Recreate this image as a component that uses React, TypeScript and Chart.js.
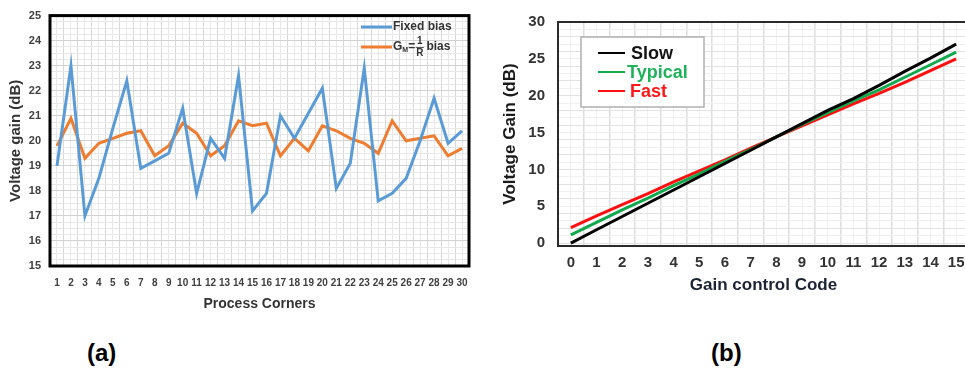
import React, { useEffect, useRef } from 'react';
import { Chart, registerables } from 'chart.js';

Chart.register(...registerables);

// ---- Chart (a) data ----
const corners = [1, 2, 3, 4, 5, 6, 7, 8, 9, 10, 11, 12, 13, 14, 15, 16, 17, 18, 19, 20, 21, 22, 23, 24, 25, 26, 27, 28, 29, 30];
const fixedBias = [19.0, 23.0, 17.0, 18.5, 20.5, 22.4, 18.9, 19.2, 19.5, 21.3, 17.9, 20.1, 19.3, 22.6, 17.2, 17.9, 21.0, 20.1, 21.1, 22.1, 18.1, 19.1, 22.9, 17.6, 17.9, 18.5, 20.0, 21.7, 19.9, 20.4];
const gmBias = [19.8, 20.9, 19.3, 19.9, 20.1, 20.3, 20.4, 19.4, 19.8, 20.7, 20.3, 19.4, 19.8, 20.8, 20.6, 20.7, 19.4, 20.1, 19.6, 20.6, 20.4, 20.1, 19.9, 19.5, 20.8, 20.0, 20.1, 20.2, 19.4, 19.7];

// ---- Chart (b) data ----
const codes = [0, 1, 2, 3, 4, 5, 6, 7, 8, 9, 10, 11, 12, 13, 14, 15];
const slow = [0.0, 1.8, 3.6, 5.4, 7.2, 9.0, 10.8, 12.6, 14.4, 16.2, 18.0, 19.6, 21.4, 23.3, 25.1, 27.0];
const typical = [1.1, 2.8, 4.5, 6.1, 7.8, 9.4, 11.1, 12.7, 14.4, 16.1, 17.7, 19.3, 20.8, 22.5, 24.2, 25.9];
const fast = [2.1, 3.7, 5.2, 6.7, 8.3, 9.8, 11.3, 12.9, 14.4, 15.9, 17.4, 18.9, 20.3, 21.8, 23.4, 25.0];
const gainGridB = [0, 1, 2, 3, 4, 5, 6, 7, 8, 9, 10, 11, 12, 13, 14, 15, 16, 17, 18, 19, 20, 21, 22, 23, 24, 25, 26, 27, 28, 29, 30];

const FONT = '"Liberation Sans", Arial, sans-serif';

function borderPlugin(color: string, width: number) {
  return {
    id: 'plotBorder',
    afterDatasetsDraw(chart: any) {
      const { ctx, chartArea: a } = chart;
      ctx.save();
      ctx.strokeStyle = color;
      ctx.lineWidth = width;
      ctx.strokeRect(a.left, a.top, a.right - a.left, a.bottom - a.top);
      ctx.restore();
    },
  };
}

const legendA = {
  id: 'legendA',
  afterDraw(chart: any) {
    const { ctx } = chart;
    const ds = chart.data.datasets;
    ctx.save();
    ctx.lineWidth = 3;
    ctx.strokeStyle = ds[0].borderColor;
    ctx.beginPath(); ctx.moveTo(361, 27); ctx.lineTo(392, 27); ctx.stroke();
    ctx.strokeStyle = ds[1].borderColor;
    ctx.beginPath(); ctx.moveTo(361, 47); ctx.lineTo(392, 47); ctx.stroke();
    ctx.fillStyle = '#333';
    ctx.textBaseline = 'middle';
    ctx.font = `bold 12px ${FONT}`;
    ctx.fillText(ds[0].label, 393, 27);
    // entry 2: G_M = 1/R bias
    let x = 393;
    ctx.fillText('G', x, 47); x += ctx.measureText('G').width;
    ctx.font = `bold 7px ${FONT}`;
    ctx.fillText('M', x, 50); x += ctx.measureText('M').width;
    ctx.font = `bold 12px ${FONT}`;
    ctx.fillText('=', x, 47); x += ctx.measureText('=').width + 1;
    ctx.font = `bold 10px ${FONT}`;
    const fw = ctx.measureText('R').width;
    ctx.textAlign = 'center';
    ctx.fillText('1', x + fw / 2, 41.5);
    ctx.fillText('R', x + fw / 2, 53.5);
    ctx.lineWidth = 0.8;
    ctx.strokeStyle = '#333';
    ctx.beginPath(); ctx.moveTo(x - 0.5, 47.5); ctx.lineTo(x + fw + 0.5, 47.5); ctx.stroke();
    ctx.textAlign = 'left';
    x += fw + 3;
    ctx.font = `bold 12px ${FONT}`;
    ctx.fillText('bias', x, 47);
    ctx.restore();
  },
};

const legendB = {
  id: 'legendB',
  afterDraw(chart: any) {
    const { ctx } = chart;
    const ds = chart.data.datasets;
    const ox = -490;
    ctx.save();
    ctx.fillStyle = '#ffffff';
    ctx.fillRect(581 + ox, 37, 123, 70);
    ctx.strokeStyle = '#b0b0b0';
    ctx.lineWidth = 1.5;
    ctx.strokeRect(581 + ox, 37, 123, 70);
    const ys = [53, 72, 91];
    const tx = [631, 627, 630];
    ctx.font = `bold 18px ${FONT}`;
    ctx.textBaseline = 'middle';
    ds.forEach((d: any, i: number) => {
      ctx.strokeStyle = d.borderColor;
      ctx.lineWidth = 2;
      ctx.beginPath(); ctx.moveTo(598 + ox, ys[i]); ctx.lineTo(625 + ox, ys[i]); ctx.stroke();
      ctx.fillStyle = d.legendColor;
      ctx.fillText(d.label, tx[i] + ox, ys[i] + 1);
    });
    ctx.restore();
  },
};

export default function App() {
  const refA = useRef<HTMLCanvasElement>(null);
  const refB = useRef<HTMLCanvasElement>(null);

  useEffect(() => {
    const chartA = new Chart(refA.current!, {
      type: 'line',
      data: {
        datasets: [
          {
            label: 'Fixed bias',
            data: corners.map((c, i) => ({ x: c, y: fixedBias[i] })),
            borderColor: '#5B9BD5',
            borderWidth: 3,
            pointRadius: 0,
            tension: 0,
          },
          {
            label: 'GM=1/R bias',
            data: corners.map((c, i) => ({ x: c, y: gmBias[i] })),
            borderColor: '#ED7D31',
            borderWidth: 3,
            pointRadius: 0,
            tension: 0,
          },
        ],
      },
      options: {
        animation: false,
        responsive: false,
        events: [],
        layout: { padding: { top: 10, right: 9, left: 0, bottom: 0 } },
        plugins: { legend: { display: false }, tooltip: { enabled: false } },
        scales: {
          x: {
            type: 'linear',
            min: 0.5,
            max: 30.5,
            afterFit: (s: any) => { s.height = 54; },
            border: { display: false },
            grid: {
              drawTicks: false,
              color: (c: any) => (Number.isInteger(c.tick.value) ? '#e8e8e8' : '#d8d8d8'),
              lineWidth: 1,
            },
            ticks: {
              stepSize: 0.5,
              autoSkip: false,
              maxRotation: 0,
              minRotation: 0,
              padding: 11,
              color: '#404040',
              font: { family: FONT, size: 10, weight: 'bold' },
              callback: (v: any) => (Number.isInteger(v) ? String(corners[v - 1]) : ''),
            },
            title: {
              display: true,
              text: 'Process Corners',
              color: '#333',
              font: { family: FONT, size: 14, weight: 'bold' },
              padding: { top: 0, bottom: 7 },
            },
          },
          y: {
            min: 15,
            max: 25,
            afterFit: (s: any) => { s.width = 50; },
            border: { display: false },
            grid: {
              drawTicks: false,
              color: (c: any) => (Number.isInteger(c.tick.value) ? '#d2d2d2' : '#e8e8e8'),
            },
            ticks: {
              stepSize: 0.25,
              autoSkip: false,
              padding: 9,
              color: '#404040',
              font: { family: FONT, size: 11, weight: 'bold' },
              callback: (v: any) => (Number.isInteger(v) ? String(v) : ''),
            },
            title: {
              display: true,
              text: 'Voltage gain (dB)',
              color: '#333',
              font: { family: FONT, size: 15, weight: 'bold' },
              padding: { top: 7, bottom: 0 },
            },
          },
        },
      },
      plugins: [borderPlugin('#000', 3), legendA],
    } as any);

    const mk = (label: string, vals: number[], color: string, legendColor: string) => ({
      label,
      data: codes.map((c, i) => ({ x: c, y: vals[i] })),
      borderColor: color,
      legendColor,
      borderWidth: 3,
      pointRadius: 0,
      tension: 0,
    });

    const chartB = new Chart(refB.current!, {
      type: 'line',
      data: {
        datasets: [
          mk('Slow', slow, '#000000', '#111111'),
          mk('Typical', typical, '#12a84e', '#1fb25a'),
          mk('Fast', fast, '#ff1010', '#ff1a1a'),
        ],
      },
      options: {
        animation: false,
        responsive: false,
        events: [],
        layout: { padding: { top: 21, right: 11, left: 0, bottom: 0 } },
        plugins: { legend: { display: false }, tooltip: { enabled: false } },
        scales: {
          x: {
            type: 'linear',
            min: -0.5,
            max: 15.5,
            afterFit: (s: any) => { s.height = 54; },
            border: { display: false },
            grid: {
              drawTicks: false,
              color: (c: any) => (Number.isInteger(c.tick.value) ? '#f0f0f0' : '#dedede'),
              lineWidth: (c: any) => (Number.isInteger(c.tick.value) ? 1 : 1.5),
            },
            ticks: {
              stepSize: 0.5,
              autoSkip: false,
              maxRotation: 0,
              minRotation: 0,
              padding: 8,
              color: '#333',
              font: { family: FONT, size: 15, weight: 'bold' },
              callback: (v: any) => (Number.isInteger(v) ? String(v) : ''),
            },
            title: {
              display: true,
              text: 'Gain control Code',
              color: '#1c2333',
              font: { family: FONT, size: 17, weight: 'bold' },
              padding: { top: 0, bottom: 4 },
            },
          },
          y: {
            min: -0.4,
            max: 30,
            afterFit: (s: any) => { s.width = 68; },
            afterBuildTicks: (s: any) => { s.ticks = gainGridB.map((v) => ({ value: v })); },
            border: { display: false },
            grid: {
              drawTicks: false,
              color: (c: any) => (c.tick.value % 2 === 0 ? '#e2e2e2' : '#f0f0f0'),
            },
            ticks: {
              autoSkip: false,
              padding: 13,
              color: '#333',
              font: { family: FONT, size: 15, weight: 'bold' },
              callback: (v: any) => (v % 5 === 0 ? String(v) : ''),
            },
            title: {
              display: true,
              text: 'Voltage Gain (dB)',
              color: '#1a1a1a',
              font: { family: FONT, size: 17, weight: 'bold' },
              padding: { top: 10, bottom: 0 },
            },
          },
        },
      },
      plugins: [borderPlugin('#2a2a2a', 2), legendB],
    } as any);

    return () => {
      chartA.destroy();
      chartB.destroy();
    };
  }, []);

  return (
    <div
      style={{
        position: 'fixed',
        left: 0,
        top: 0,
        width: 965,
        height: 376,
        overflow: 'hidden',
        background: '#fff',
      }}
    >
      <canvas ref={refA} width={480} height={320} style={{ position: 'absolute', left: 0, top: 0, width: 480, height: 320 }} />
      <canvas ref={refB} width={490} height={300} style={{ position: 'absolute', left: 490, top: 0, width: 490, height: 300 }} />
      <div style={{ position: 'absolute', left: 87, top: 339, font: `bold 24px ${FONT}`, color: '#000' }}>(a)</div>
      <div style={{ position: 'absolute', left: 711, top: 339, font: `bold 24px ${FONT}`, color: '#000' }}>(b)</div>
    </div>
  );
}
